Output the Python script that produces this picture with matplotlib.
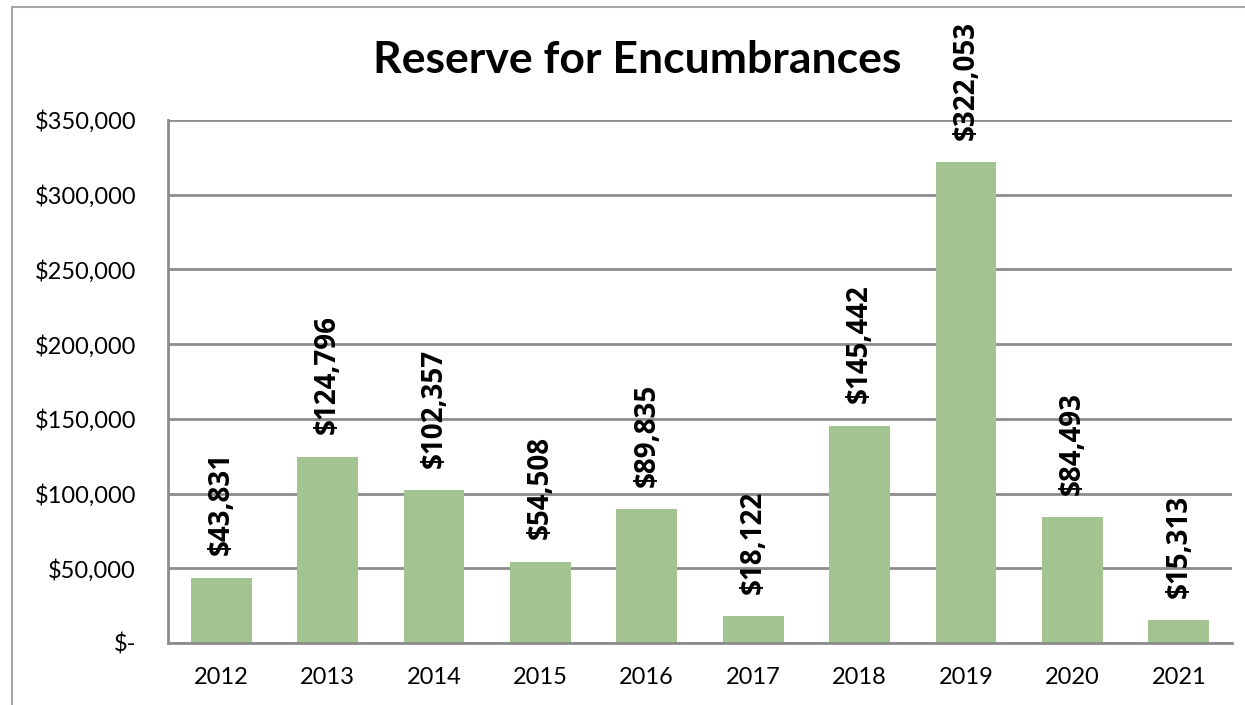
import matplotlib
matplotlib.use("Agg")
from matplotlib import pyplot as plt
from matplotlib.patches import Rectangle
from matplotlib.ticker import FuncFormatter
from matplotlib.transforms import ScaledTranslation

years = ["2012", "2013", "2014", "2015", "2016", "2017", "2018", "2019", "2020", "2021"]
reserve = [43831, 124796, 102357, 54508, 89835, 18122, 145442, 322053, 84493, 15313]
y_ticks = [0, 50000, 100000, 150000, 200000, 250000, 300000, 350000]

plt.rcParams["font.family"] = ["Lato", "DejaVu Sans"]

fig = plt.figure(figsize=(12.45, 7.05), dpi=100)
ax = fig.add_axes([168 / 1245, 1 - 643 / 705, (1232 - 168) / 1245, (643 - 120) / 705])

# outer chart border (right/bottom run off the picture)
fig.patches.append(Rectangle((12 / 1245, -0.1), 1.2, 1 - 7 / 705 + 0.1,
                             transform=fig.transFigure, fill=False,
                             edgecolor="#a6a6a6", linewidth=1.5))

x = range(len(years))
bars = ax.bar(x, reserve, width=0.57, color="#a3c490", zorder=2)

label_offset = ax.transData + ScaledTranslation(0, 16 / 72, fig.dpi_scale_trans)
for xi, v in zip(x, reserve):
    ax.text(xi, v, f"${v:,}", rotation=90, ha="center", va="bottom",
            fontsize=20, fontweight="bold", family=["Open Sans", "DejaVu Sans"],
            zorder=3, transform=label_offset)

ax.set_xlim(-0.5, len(years) - 0.5)
ax.set_ylim(0, 350000)
ax.set_yticks(y_ticks)
ax.yaxis.set_major_formatter(FuncFormatter(lambda v, p: "$-" if v == 0 else f"${v:,.0f}"))
ax.set_xticks(list(x))
ax.set_xticklabels(years)
ax.tick_params(axis="both", length=0, labelsize=17)
ax.tick_params(axis="y", pad=23)
ax.tick_params(axis="x", pad=17)
ax.grid(axis="y", color="#8c8c8c", linewidth=2, zorder=0)
for side in ["top", "right"]:
    ax.spines[side].set_visible(False)
for side in ["left", "bottom"]:
    ax.spines[side].set_color("#8c8c8c")
    ax.spines[side].set_linewidth(2)

fig.text(637 / 1245, 1 - 60 / 705, "Reserve for Encumbrances", ha="center", va="center",
         fontsize=32, fontweight="bold")

fig.savefig("out.png", dpi=100)
